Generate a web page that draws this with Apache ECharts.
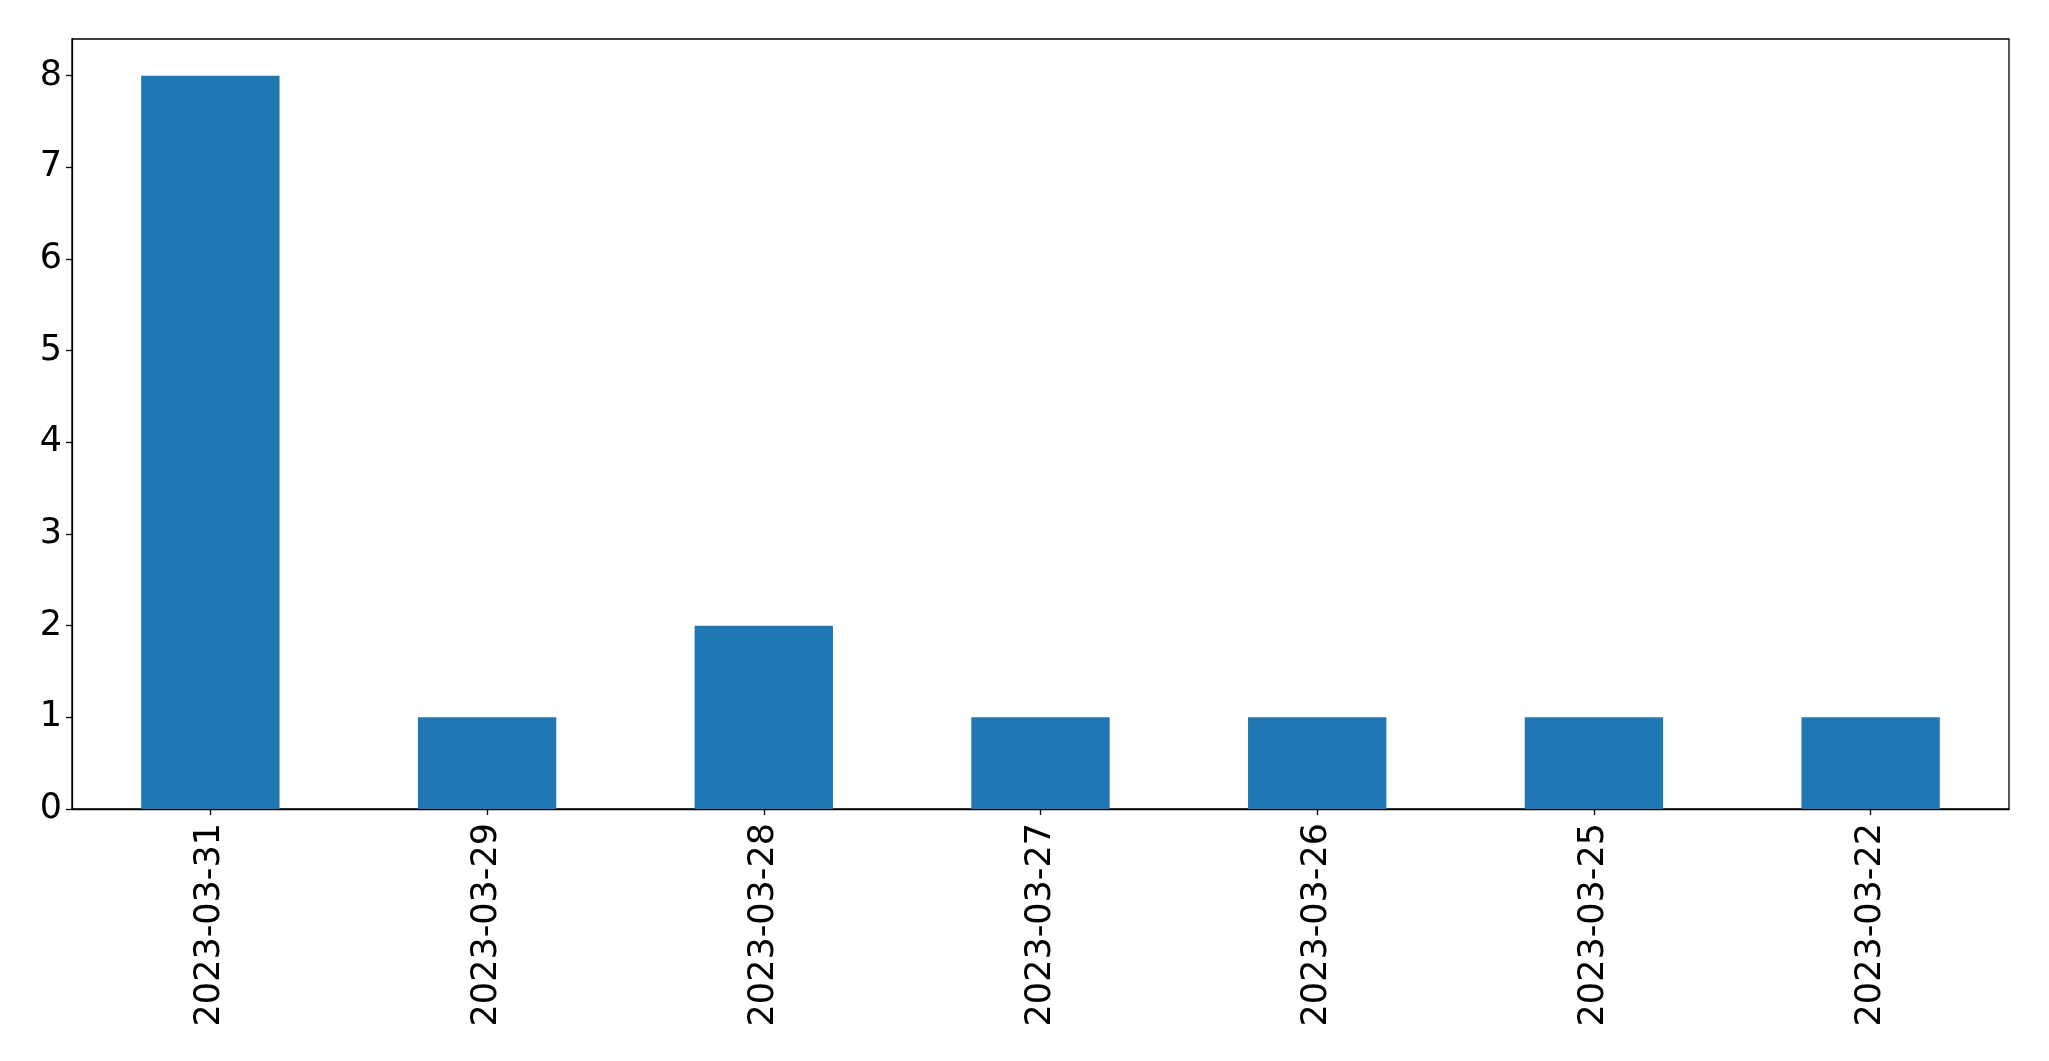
<!DOCTYPE html>
<html><head><meta charset="utf-8">
<script src="https://cdn.jsdelivr.net/npm/echarts@6/dist/echarts.min.js"></script>
<style>html,body{margin:0;padding:0;background:#fff}#c{width:2049px;height:1061px}</style>
</head><body><div id="c"></div>
<script>
const categories = ['2023-03-31','2023-03-29','2023-03-28','2023-03-27','2023-03-26','2023-03-25','2023-03-22'];
const values = [8, 1, 2, 1, 1, 1, 1];
const yTicks = [0,1,2,3,4,5,6,7,8];

const chart = echarts.init(document.getElementById('c'));
const font = 'DejaVu Sans';
chart.setOption({
  animation: false,
  backgroundColor: '#fff',
  grid: {left: 72, top: 39, right: 40, bottom: 252, show: true, borderColor: '#000', borderWidth: 1.3, backgroundColor: 'transparent'},
  xAxis: {
    type: 'category', data: categories, boundaryGap: true,
    axisLine: {show: true, lineStyle: {color: '#000', width: 1.3}},
    axisTick: {show: true, alignWithLabel: true, length: 6, lineStyle: {color: '#000', width: 1.3}},
    axisLabel: {rotate: 90, fontSize: 35, fontFamily: font, color: '#000', margin: 14, interval: 0},
    splitLine: {show: false}
  },
  yAxis: {
    type: 'value', min: 0, max: 8.4, interval: 1,
    axisLine: {show: true, lineStyle: {color: '#000', width: 1.3}},
    axisTick: {show: true, length: 6, lineStyle: {color: '#000', width: 1.3}, customValues: yTicks},
    axisLabel: {fontSize: 35, fontFamily: font, color: '#000', margin: 10, customValues: yTicks},
    splitLine: {show: false}
  },
  series: [{type: 'bar', data: values, barWidth: '50%', itemStyle: {color: '#1f77b4'}}]
});
</script></body></html>
